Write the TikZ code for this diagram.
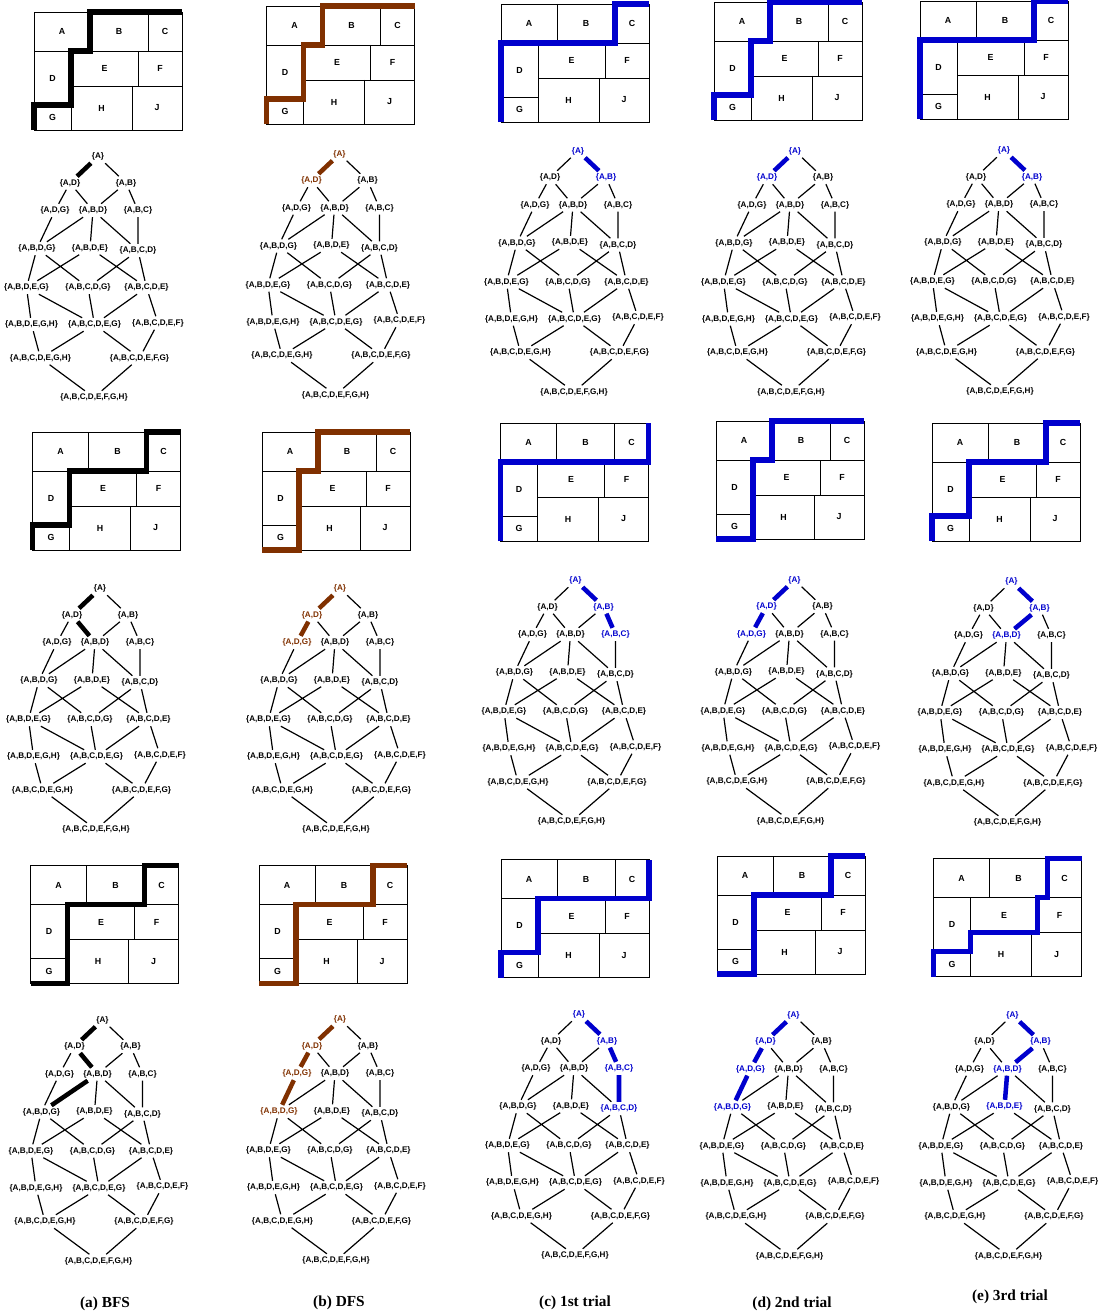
\documentclass[tikz,border=0pt]{standalone}
\usepackage{fontspec}
\setmainfont{Liberation Serif}
\setsansfont{Liberation Sans}
\definecolor{bfs}{RGB}{0,0,0}
\definecolor{dfs}{RGB}{128,48,0}
\definecolor{trial}{RGB}{0,0,205}

% lattice of room sets, #1 prefix, (#2,#3) position of {A}
\newcommand{\lattice}[3]{%
  \begin{scope}[shift={(#2,#3)}]
    \node[lbl,on-A/.try]        (#1A)        at (0,0)         {\{A\}};
    \node[lbl,on-AD/.try]       (#1AD)       at (-28,26.5)    {\{A,D\}};
    \node[lbl,on-AB/.try]       (#1AB)       at (28,26.5)     {\{A,B\}};
    \node[lbl,on-ADG/.try]      (#1ADG)      at (-43,54)      {\{A,D,G\}};
    \node[lbl,on-ABD/.try]      (#1ABD)      at (-5,54)       {\{A,B,D\}};
    \node[lbl,on-ABC/.try]      (#1ABC)      at (40,54)       {\{A,B,C\}};
    \node[lbl,on-ABDG/.try]     (#1ABDG)     at (-61,92)      {\{A,B,D,G\}};
    \node[lbl,on-ABDE/.try]     (#1ABDE)     at (-8,91.5)     {\{A,B,D,E\}};
    \node[lbl,on-ABCD/.try]     (#1ABCD)     at (40,94)       {\{A,B,C,D\}};
    \node[lbl]                  (#1ABDEG)    at (-71.5,131)   {\{A,B,D,E,G\}};
    \node[lbl]                  (#1ABCDG)    at (-10,131)     {\{A,B,C,D,G\}};
    \node[lbl]                  (#1ABCDE)    at (48.5,131)    {\{A,B,C,D,E\}};
    \node[lbl]                  (#1ABDEGH)   at (-66.5,168)   {\{A,B,D,E,G,H\}};
    \node[lbl]                  (#1ABCDEG)   at (-3.5,168)    {\{A,B,C,D,E,G\}};
    \node[lbl]                  (#1ABCDEF)   at (60,166.5)    {\{A,B,C,D,E,F\}};
    \node[lbl]                  (#1ABCDEGH)  at (-57.5,201.5) {\{A,B,C,D,E,G,H\}};
    \node[lbl]                  (#1ABCDEFG)  at (41.5,201.5)  {\{A,B,C,D,E,F,G\}};
    \node[lbl]                  (#1ABCDEFGH) at (-4,241)      {\{A,B,C,D,E,F,G,H\}};
  \end{scope}
  \draw[link] (#1A) -- (#1AD) (#1A) -- (#1AB)
    (#1AD) -- (#1ADG) (#1AD) -- (#1ABD) (#1AB) -- (#1ABD) (#1AB) -- (#1ABC)
    (#1ADG) -- (#1ABDG) (#1ABD) -- (#1ABDG) (#1ABD) -- (#1ABDE) (#1ABD) -- (#1ABCD)
    (#1ABC) -- (#1ABCD)
    (#1ABDG) -- (#1ABDEG) (#1ABDG) -- (#1ABCDG) (#1ABDE) -- (#1ABDEG)
    (#1ABDE) -- (#1ABCDE) (#1ABCD) -- (#1ABCDG) (#1ABCD) -- (#1ABCDE)
    (#1ABDEG) -- (#1ABDEGH) (#1ABDEG) -- (#1ABCDEG) (#1ABCDG) -- (#1ABCDEG)
    (#1ABCDE) -- (#1ABCDEG) (#1ABCDE) -- (#1ABCDEF)
    (#1ABDEGH) -- (#1ABCDEGH) (#1ABCDEG) -- (#1ABCDEGH) (#1ABCDEG) -- (#1ABCDEFG)
    (#1ABCDEF) -- (#1ABCDEFG)
    (#1ABCDEGH) -- (#1ABCDEFGH) (#1ABCDEFG) -- (#1ABCDEFGH);
}

% floor plan, #1 prefix, (#2,#3) top left, #4 colour, #5 frontier
\newcommand{\plan}[5]{%
  \begin{scope}[shift={(#2,#3)}]
    \draw[wall] (0,0) rectangle (148,118);
    \draw[wall] (0,39) -- (148,39) (37,74) -- (148,74) (0,93) -- (37,93)
      (56,0) -- (56,39) (114,0) -- (114,39)
      (37,39) -- (37,118) (104,39) -- (104,74) (98,74) -- (98,118);
    \node[room] (#1a) at (28,19.5)   {A};
    \node[room] (#1b) at (85,19.5)   {B};
    \node[room] (#1c) at (131,19.5)  {C};
    \node[room] (#1d) at (18.5,66)   {D};
    \node[room] (#1e) at (70.5,56.5) {E};
    \node[room] (#1f) at (126,56.5)  {F};
    \node[room] (#1g) at (18.5,105.5){G};
    \node[room] (#1h) at (67.5,96)   {H};
    \node[room] (#1j) at (123,96)    {J};
    \draw[front=#4] #5;
  \end{scope}}

\begin{document}
\begin{tikzpicture}[x=0.75pt,y=-0.75pt,
    lbl/.style={font=\sffamily\bfseries\fontsize{6.1}{7}\selectfont, inner sep=2pt},
    room/.style={font=\sffamily\bfseries\fontsize{6.6}{8}\selectfont},
    wall/.style={line width=0.7pt},
    link/.style={line width=0.9pt},
    hot/.style={line width=3.4pt, draw=#1},
    front/.style={line width=3.8pt, draw=#1},
    subcap/.style={font=\bfseries\fontsize{11.5}{13}\selectfont}
  ]
  \useasboundingbox (0,0) rectangle (1109,1313);

  % first row
  \plan{pa1}{34}{12}{bfs}{(0,118) |- (37,93) |- (56,39) |- (148,0)}
  \lattice{a1}{98}{156.5}
  \draw[hot=bfs] (a1A) -- (a1AD);

  \plan{pb1}{266.5}{6}{dfs}{(0,118) |- (37,93) |- (56,39) |- (148,0)}
  \begin{scope}[on-A/.style={text=dfs}, on-AD/.style={text=dfs}]
    \lattice{b1}{339.5}{154}
  \end{scope}
  \draw[hot=dfs] (b1A) -- (b1AD);

  \plan{pc1}{501}{4}{trial}{(0,118) |- (114,39) |- (148,0)}
  \begin{scope}[on-A/.style={text=trial}, on-AB/.style={text=trial}]
    \lattice{c1}{578}{151}
  \end{scope}
  \draw[hot=trial] (c1A) -- (c1AB);

  \plan{pd1}{714}{2}{trial}{(0,118) |- (37,93) |- (56,39) |- (148,0)}
  \begin{scope}[on-A/.style={text=trial}, on-AD/.style={text=trial}]
    \lattice{d1}{795}{151}
  \end{scope}
  \draw[hot=trial] (d1A) -- (d1AD);

  \plan{pe1}{920}{1}{trial}{(0,118) |- (114,39) |- (148,0)}
  \begin{scope}[on-A/.style={text=trial}, on-AB/.style={text=trial}]
    \lattice{e1}{1004}{150.5}
  \end{scope}
  \draw[hot=trial] (e1A) -- (e1AB);

  % second row
  \plan{pa2}{32.5}{432}{bfs}{(0,118) |- (37,93) |- (114,39) |- (148,0)}
  \lattice{a2}{100}{588.5}
  \draw[hot=bfs] (a2A) -- (a2AD) -- (a2ABD);

  \plan{pb2}{262}{432}{dfs}{(0,118) -| (37,39) -| (56,0) -- (148,0)}
  \begin{scope}[on-A/.style={text=dfs}, on-AD/.style={text=dfs}, on-ADG/.style={text=dfs}]
    \lattice{b2}{340}{588.5}
  \end{scope}
  \draw[hot=dfs] (b2A) -- (b2AD) -- (b2ADG);

  \plan{pc2}{500.5}{423}{trial}{(0,118) |- (148,39) -- (148,0)}
  \begin{scope}[on-A/.style={text=trial}, on-AB/.style={text=trial}, on-ABC/.style={text=trial}]
    \lattice{c2}{575.5}{580.5}
  \end{scope}
  \draw[hot=trial] (c2A) -- (c2AB) -- (c2ABC);

  \plan{pd2}{716}{421}{trial}{(0,118) -| (37,39) -| (56,0) -- (148,0)}
  \begin{scope}[on-A/.style={text=trial}, on-AD/.style={text=trial}, on-ADG/.style={text=trial}]
    \lattice{d2}{794.5}{580}
  \end{scope}
  \draw[hot=trial] (d2A) -- (d2AD) -- (d2ADG);

  \plan{pe2}{932}{423}{trial}{(0,118) |- (37,93) |- (114,39) |- (148,0)}
  \begin{scope}[on-A/.style={text=trial}, on-AB/.style={text=trial}, on-ABD/.style={text=trial}]
    \lattice{e2}{1011.5}{581.5}
  \end{scope}
  \draw[hot=trial] (e2A) -- (e2AB) -- (e2ABD);

  % third row
  \plan{pa3}{30.5}{865.5}{bfs}{(0,118) -| (37,39) -| (114,0) -- (148,0)}
  \lattice{a3}{102.5}{1020}
  \draw[hot=bfs] (a3A) -- (a3AD) -- (a3ABD) -- (a3ABDG);

  \plan{pb3}{259}{865.5}{dfs}{(0,118) -| (37,39) -| (114,0) -- (148,0)}
  \begin{scope}[on-A/.style={text=dfs}, on-AD/.style={text=dfs}, on-ADG/.style={text=dfs},
      on-ABDG/.style={text=dfs}]
    \lattice{b3}{340}{1019.5}
  \end{scope}
  \draw[hot=dfs] (b3A) -- (b3AD) -- (b3ADG) -- (b3ABDG);

  \plan{pc3}{501}{859.5}{trial}{(0,118) |- (37,93) |- (148,39) -- (148,0)}
  \begin{scope}[on-A/.style={text=trial}, on-AB/.style={text=trial}, on-ABC/.style={text=trial},
      on-ABCD/.style={text=trial}]
    \lattice{c3}{579}{1014.5}
  \end{scope}
  \draw[hot=trial] (c3A) -- (c3AB) -- (c3ABC) -- (c3ABCD);

  \plan{pd3}{717}{856}{trial}{(0,118) -| (37,39) -| (114,0) -- (148,0)}
  \begin{scope}[on-A/.style={text=trial}, on-AD/.style={text=trial}, on-ADG/.style={text=trial},
      on-ABDG/.style={text=trial}]
    \lattice{d3}{793.5}{1015}
  \end{scope}
  \draw[hot=trial] (d3A) -- (d3AD) -- (d3ADG) -- (d3ABDG);

  \plan{pe3}{933.5}{858.5}{trial}{(0,118) |- (37,93) |- (104,74) |- (114,39) |- (148,0)}
  \begin{scope}[on-A/.style={text=trial}, on-AB/.style={text=trial}, on-ABD/.style={text=trial},
      on-ABDE/.style={text=trial}]
    \lattice{e3}{1012.5}{1015}
  \end{scope}
  \draw[hot=trial] (e3A) -- (e3AB) -- (e3ABD) -- (e3ABDE);

  % captions
  \node[subcap] (capa) at (105,1304) {(a) BFS};
  \node[subcap] (capb) at (339,1303) {(b) DFS};
  \node[subcap] (capc) at (575,1303) {(c) 1st trial};
  \node[subcap] (capd) at (792,1304) {(d) 2nd trial};
  \node[subcap] (cape) at (1010,1297) {(e) 3rd trial};
\end{tikzpicture}
\end{document}
